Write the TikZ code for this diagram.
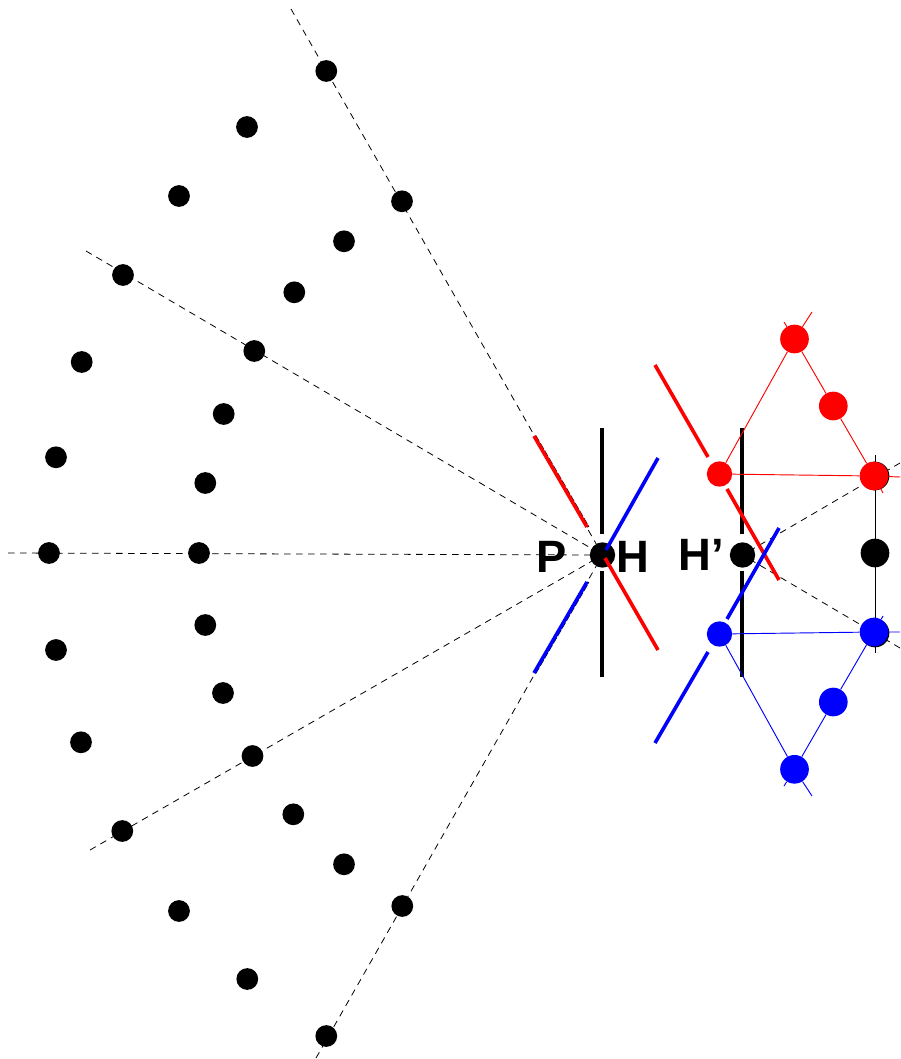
\documentclass[tikz,border=0pt]{standalone}
\usepackage{fontspec}
\setmainfont{Liberation Sans}
\begin{document}
\begin{tikzpicture}[x=0.75pt,y=-0.75pt,
  ray/.style={draw=black,line width=0.6pt,dash pattern=on 5pt off 4pt},
  bar/.style={line width=2.7pt},
  fine/.style={line width=0.7pt},
  edgeline/.style={line width=1.6pt,dash pattern=on 5pt off 1.5pt},
  dot/.style={circle,fill=#1,draw=none,inner sep=0pt},
  small/.style={dot=black,minimum size=16.3pt},
  mid/.style={dot=#1,minimum size=19pt},
  big/.style={dot=#1,minimum size=21.5pt},
  lab/.style={font=\bfseries\fontsize{34}{34}\selectfont,inner sep=0pt,anchor=base}]
\useasboundingbox (0,0) rectangle (900,1059);
\clip (0,0) rectangle (900,1059);
% free ends of the rays
\coordinate (r1) at (291,9);
\coordinate (r2) at (86,251);
\coordinate (r3) at (8,553);
\coordinate (r4) at (90,850);
\coordinate (r5) at (316,1058);
\coordinate (c) at (602.5,555);
\coordinate (cp) at (742.5,555);
\coordinate (q1) at (900,463);
\coordinate (q2) at (900,648);
\draw[ray] (r1) -- (c);
\draw[ray] (r2) -- (c);
\draw[ray] (r3) -- (c);
\draw[ray] (r4) -- (c);
\draw[ray] (r5) -- (c);
\draw[ray] (q1) -- (cp);
\draw[ray] (q2) -- (cp);
% black vertical bars
\coordinate (v1a) at (602,428); \coordinate (v1b) at (602,534);
\coordinate (v1c) at (602,571); \coordinate (v1d) at (602,677);
\coordinate (v2a) at (742,428); \coordinate (v2b) at (742,534);
\coordinate (v2c) at (742,571); \coordinate (v2d) at (742,677);
\draw[bar] (v1a) -- (v1b);
\draw[bar] (v1c) -- (v1d);
\draw[bar] (v2a) -- (v2b);
\draw[bar] (v2c) -- (v2d);
% thin vertical at right
\coordinate (t1) at (875,455); \coordinate (t2) at (875,653);
\draw[fine] (t1) -- (t2);
% scattered black dots
\foreach \n/\x/\y in {a1/326.3/71,a2/247/127,a3/179/196,a4/402/201.3,a5/344/241.3,a6/294.3/292.3,
  a7/123/275,a8/254.3/351,a9/81.7/362,a10/223.7/414,a11/56/457.3,a12/205.3/483,a13/49/553,a14/199/553,
  a15/205.3/625,a16/56/650,a17/223/693,a18/81/742.3,a19/252.5/756,a20/293.3/814.3,a21/122.3/831,
  a22/344/864.3,a23/179/911,a24/402.3/906,a25/247.3/979,a26/326.3/1036}
  \node[small] (\n) at (\x,\y) {};
% centre and right black dots
\node[mid=black] (H) at (c) {};
\node[mid=black] (Hp) at (cp) {};
\node[big=black] (B0) at (875,553) {};
\node[big=black] (B1) at (875,476) {};
\node[big=black] (B2) at (875,633) {};
% coloured nodes
\node[mid=red] (R1) at (719.5,474) {};
\node[big=red] (R2) at (794.5,339) {};
\node[big=red] (R3) at (833.3,406) {};
\node[big=red] (R4) at (874,476) {};
\node[mid=blue] (U1) at (719.5,634) {};
\node[big=blue] (U2) at (794.5,769.3) {};
\node[big=blue] (U3) at (833.3,702) {};
\node[big=blue] (U4) at (874,632) {};
% thin coloured lines
\coordinate (re1) at (812,312); \coordinate (re2) at (784,322);
\coordinate (re3) at (883,493); \coordinate (re4) at (900,477);
\coordinate (ue1) at (812,796); \coordinate (ue2) at (784,786);
\coordinate (ue3) at (883,616); \coordinate (ue4) at (900,632);
\draw[fine,red] (re1) -- (R2) -- (R1) -- (R4) -- (re4);
\draw[fine,red] (re2) -- (R2) -- (R3) -- (R4) -- (re3);
\draw[fine,blue] (ue1) -- (U2) -- (U1) -- (U4) -- (ue4);
\draw[fine,blue] (ue2) -- (U2) -- (U3) -- (U4) -- (ue3);
% thick coloured segments
\coordinate (a) at (534,436); \coordinate (b) at (587,527);
\coordinate (d) at (605,558); \coordinate (e) at (658,650);
\coordinate (f) at (606,550); \coordinate (g) at (658,458);
\coordinate (h) at (534,673); \coordinate (i) at (587,582);
\coordinate (j) at (655,365); \coordinate (k) at (708,457);
\coordinate (l) at (727,489); \coordinate (m) at (779,580);
\coordinate (n) at (779,528); \coordinate (o) at (727,619);
\coordinate (p) at (708,652); \coordinate (s) at (655,743);
% the black edge that shows beside the outer segments
\draw[edgeline] ([xshift=1pt]a) -- ([xshift=1pt]b);
\draw[edgeline] ([xshift=1pt]h) -- ([xshift=1pt]i);
\draw[bar,red] (a) -- (b);
\draw[bar,red] (d) -- (e);
\draw[bar,blue] (f) -- (g);
\draw[bar,blue] (h) -- (i);
\draw[bar,red] (j) -- (k);
\draw[bar,red] (l) -- (m);
\draw[bar,blue] (n) -- (o);
\draw[bar,blue] (p) -- (s);
% labels
\node[lab] (P) at (552,572) {P};
\node[lab] (HL) at (633,572) {H};
\node[lab] (HpL) at (701,570) {H’};
\end{tikzpicture}
\end{document}
